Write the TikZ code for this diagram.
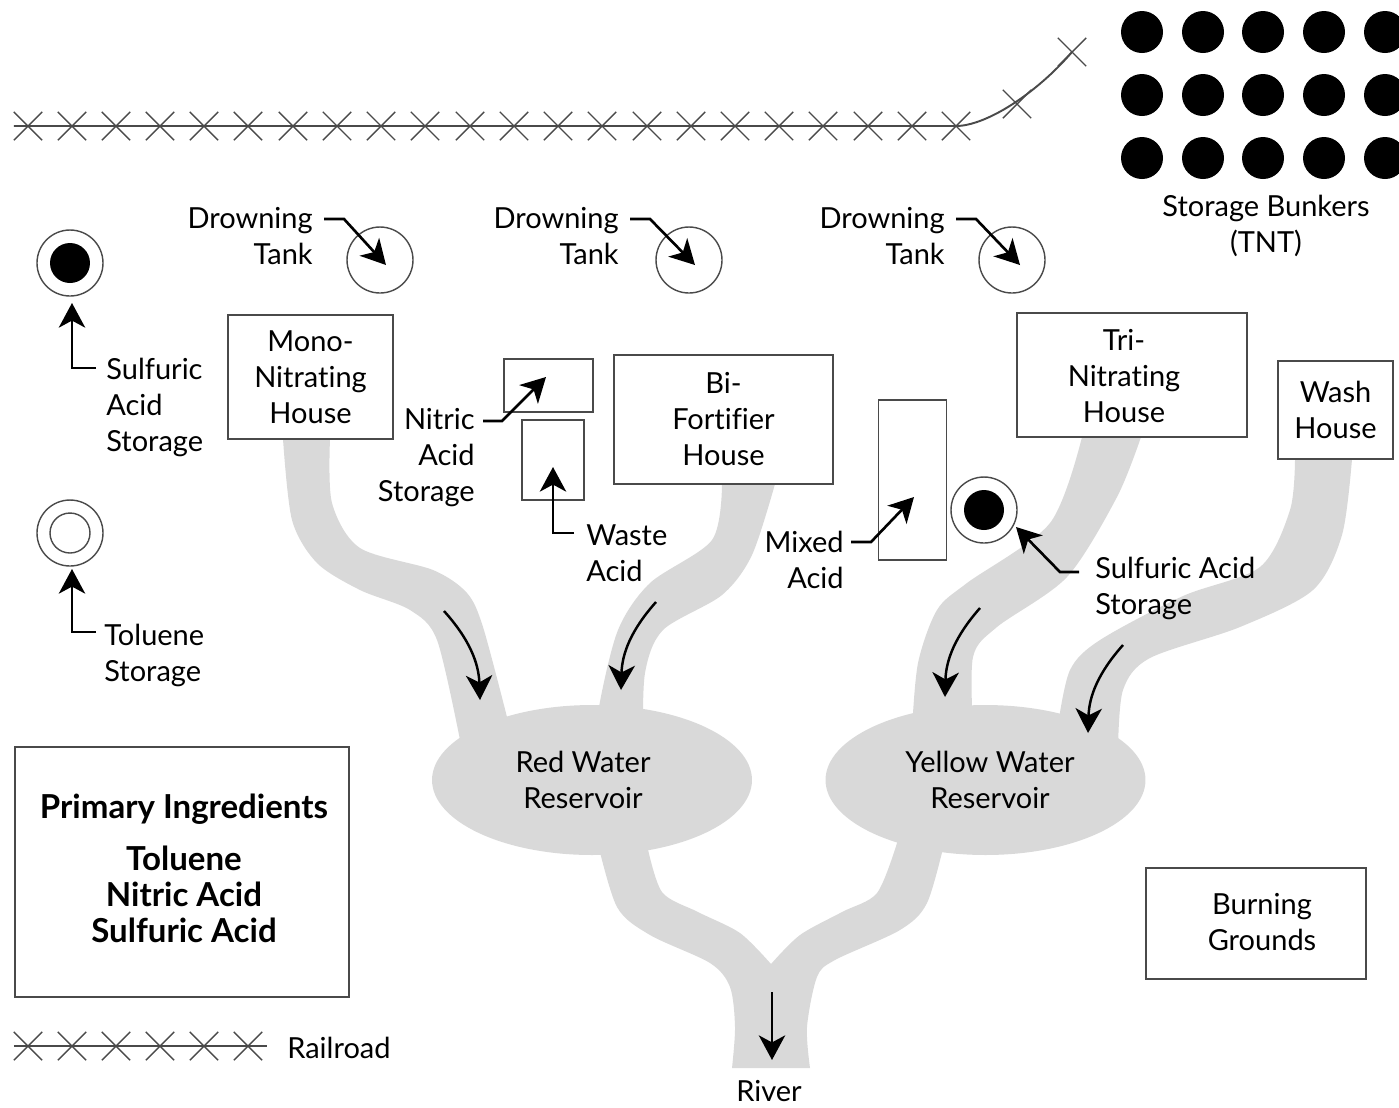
\documentclass[tikz,border=0pt]{standalone}
\usepackage{fontspec}
\setmainfont[Ligatures = NoCommon]{Lato}
\usepackage{tikz}
\usetikzlibrary{arrows.meta,shapes.geometric,shapes.misc}
\definecolor{water}{HTML}{D9D9D9}
\definecolor{railgray}{HTML}{4A4A4A}
\definecolor{boxgray}{HTML}{4A4A4A}
\newcommand{\labelfont}{\fontsize{16.5}{20.5}\selectfont}
\newcommand{\ingredfont}{\fontsize{18.8}{20.5}\selectfont\bfseries}

\begin{document}
\begin{tikzpicture}[x = 0.02cm, y = -0.02cm]
\tikzstyle{waterStyle} = [fill = water]
\tikzstyle{reservoirStyle} = [shape = ellipse, fill = water, inner sep = 0pt, minimum width = 6.4cm, minimum height = 3cm]
\tikzstyle{tieStyle} = [shape = cross out, draw = railgray, line width = 0.8pt, inner sep = 0pt, minimum size = 0.54cm]
\tikzstyle{railStyle} = [draw = railgray, line width = 1.1pt]
\tikzstyle{bunkerStyle} = [shape = circle, fill = black, inner sep = 0pt, minimum size = 0.84cm]
\tikzstyle{tankStyle} = [shape = circle, draw = boxgray, line width = 0.8pt, inner sep = 0pt, minimum size = 1.32cm]
\tikzstyle{coreStyle} = [shape = circle, fill = black, inner sep = 0pt, minimum size = 0.8cm]
\tikzstyle{openStyle} = [shape = circle, draw = boxgray, line width = 0.8pt, inner sep = 0pt, minimum size = 0.8cm]
\tikzstyle{boxStyle} = [shape = rectangle, draw = boxgray, line width = 0.9pt, inner sep = 0pt, align = center, font = \labelfont]
\tikzstyle{labelStyle} = [inner sep = 0pt, font = \labelfont]
\tikzstyle{leaderStyle} = [line width = 1.5pt, -{Stealth[length = 14pt, width = 15pt, inset = 4pt]}]
\tikzstyle{flowStyle} = [line width = 1.4pt, -{Stealth[length = 14pt, width = 15pt, inset = 4pt]}]
\useasboundingbox (0,0) rectangle (1399,1107);
\fill[waterStyle] plot[smooth] coordinates {(283,439) (292,520) (317,563) (360,590) (410,610) (437,640) (460,740)} -- plot[smooth] coordinates {(507,717) (483,627) (467,593) (433,570) (360,548) (332,503) (330,439)} -- cycle;
\fill[waterStyle] plot[smooth] coordinates {(722,484) (712,540) (650,583) (618,630) (599,707) (599,740)} -- plot[smooth] coordinates {(643,740) (645,673) (663,630) (722,595) (752,555) (775,484)} -- cycle;
\fill[waterStyle] plot[smooth] coordinates {(1082,437) (1050,523) (967,583) (937,610) (918,663) (912,730)} -- plot[smooth] coordinates {(973,730) (973,657) (997,627) (1067,577) (1117,497) (1141,437)} -- cycle;
\fill[waterStyle] plot[smooth] coordinates {(1295,459) (1290,510) (1260,567) (1183,596) (1100,640) (1070,670) (1058,725)} -- plot[smooth] coordinates {(1118,750) (1123,690) (1150,658) (1240,627) (1313,590) (1342,535) (1352,459)} -- cycle;
\fill[waterStyle] plot[smooth] coordinates {(597,840) (617,907) (650,935) (710,963) (730,987) (735,1027) (732,1068)} -- (810,1068) -- plot[smooth] coordinates {(810,1068) (807,1027) (817,977) (835,960) (900,930) (927,903) (945,840)} -- (897,840) -- plot[smooth] coordinates {(897,843) (877,893) (842,912) (800,935) (771,964)} -- plot[smooth] coordinates {(771,964) (740,933) (698,912) (662,892) (647,845)} -- cycle;
\node[reservoirStyle] (redres) at (592,780) {};
\node[reservoirStyle] (yellowres) at (985.5,780) {};
\node[labelStyle, align = center] (redtext) at (583,780) {Red Water\\Reservoir};
\node[labelStyle, align = center] (yellowtext) at (990,780) {Yellow Water\\Reservoir};
\node[tieStyle] (rt0) at (28,126) {};
\node[tieStyle] (rt1) at (72,126) {};
\node[tieStyle] (rt2) at (116,126) {};
\node[tieStyle] (rt3) at (160,126) {};
\node[tieStyle] (rt4) at (204,126) {};
\node[tieStyle] (rt5) at (248,126) {};
\node[tieStyle] (rt6) at (293,126) {};
\node[tieStyle] (rt7) at (337,126) {};
\node[tieStyle] (rt8) at (381,126) {};
\node[tieStyle] (rt9) at (425,126) {};
\node[tieStyle] (rt10) at (470,126) {};
\node[tieStyle] (rt11) at (514,126) {};
\node[tieStyle] (rt12) at (558,126) {};
\node[tieStyle] (rt13) at (602,126) {};
\node[tieStyle] (rt14) at (647,126) {};
\node[tieStyle] (rt15) at (691,126) {};
\node[tieStyle] (rt16) at (735,126) {};
\node[tieStyle] (rt17) at (779,126) {};
\node[tieStyle] (rt18) at (823,126) {};
\node[tieStyle] (rt19) at (868,126) {};
\node[tieStyle] (rt20) at (912,126) {};
\node[tieStyle] (rt21) at (956,126) {};
\node[tieStyle] (rt22) at (1017,104) {};
\node[tieStyle] (rt23) at (1072,52) {};
\draw[railStyle] (rt0.west) -- (rt21.center) .. controls (985,126) and (1035,95) .. (rt23.center);
\node[bunkerStyle] (bk0) at (1142,32) {};
\node[bunkerStyle] (bk1) at (1203,32) {};
\node[bunkerStyle] (bk2) at (1263,32) {};
\node[bunkerStyle] (bk3) at (1324,32) {};
\node[bunkerStyle] (bk4) at (1385,32) {};
\node[bunkerStyle] (bk5) at (1142,95) {};
\node[bunkerStyle] (bk6) at (1203,95) {};
\node[bunkerStyle] (bk7) at (1263,95) {};
\node[bunkerStyle] (bk8) at (1324,95) {};
\node[bunkerStyle] (bk9) at (1385,95) {};
\node[bunkerStyle] (bk10) at (1142,158) {};
\node[bunkerStyle] (bk11) at (1203,158) {};
\node[bunkerStyle] (bk12) at (1263,158) {};
\node[bunkerStyle] (bk13) at (1324,158) {};
\node[bunkerStyle] (bk14) at (1385,158) {};
\node[labelStyle, align = center] (bunkerlabel) at (1266,226) {Storage Bunkers\\(TNT)};
\node[tankStyle] (drown1) at (380,260) {};
\node[tankStyle] (drown2) at (689,260) {};
\node[tankStyle] (drown3) at (1012,260) {};
\node[labelStyle, anchor = east, align = right] (drownlabel1) at (313,236) {Drowning\\Tank};
\node[labelStyle, anchor = east, align = right] (drownlabel2) at (619,236) {Drowning\\Tank};
\node[labelStyle, anchor = east, align = right] (drownlabel3) at (945,236) {Drowning\\Tank};
\draw[leaderStyle] ([shift = {(11,-17)}]drownlabel1.east) -- ++(20,0) -- ([shift = {(6,5)}]drown1.center);
\draw[leaderStyle] ([shift = {(11,-17)}]drownlabel2.east) -- ++(20,0) -- ([shift = {(6,5)}]drown2.center);
\draw[leaderStyle] ([shift = {(11,-17)}]drownlabel3.east) -- ++(20,0) -- ([shift = {(8,5)}]drown3.center);
\node[tankStyle] (sulfur1) at (70,263) {};
\node[coreStyle] (sulfurcore1) at (70,263) {};
\node[labelStyle, anchor = west, align = left] (sulfurlabel1) at (106,407) {Sulfuric\\Acid\\Storage};
\draw[leaderStyle] ([shift = {(-10,-39)}]sulfurlabel1.west) -| ([shift = {(2,40)}]sulfur1.center);
\node[tankStyle] (toluene) at (70,533) {};
\node[openStyle] (toluenecore) at (70,533) {};
\node[labelStyle, anchor = west, align = left] (toluenelabel) at (104,655) {Toluene\\Storage};
\draw[leaderStyle] ([shift = {(-8,-23)}]toluenelabel.west) -| ([shift = {(2,36)}]toluene.center);
\node[boxStyle, minimum width = 3.3cm, minimum height = 2.48cm] (monohouse) at (310.5,377) {Mono-\\Nitrating\\House};
\node[boxStyle, minimum width = 4.38cm, minimum height = 2.58cm] (bihouse) at (723.5,419.5) {Bi-\\Fortifier\\House};
\node[boxStyle, minimum width = 4.6cm, minimum height = 2.48cm] (trihouse) at (1132,375) {};
\node[labelStyle, align = center] (tritext) at (1124,376) {Tri-\\Nitrating\\House};
\node[boxStyle, minimum width = 2.3cm, minimum height = 1.96cm] (washhouse) at (1335.5,410) {Wash\\House};
\node[boxStyle, minimum width = 1.78cm, minimum height = 1.06cm] (nitricbox) at (548.5,385.5) {};
\node[boxStyle, minimum width = 1.24cm, minimum height = 1.6cm] (wastebox) at (553,460) {};
\node[boxStyle, minimum width = 1.36cm, minimum height = 3.2cm] (mixedbox) at (912.5,480) {};
\node[labelStyle, anchor = east, align = right] (nitriclabel) at (475,458) {Nitric\\Acid\\Storage};
\node[labelStyle, anchor = west, align = left] (wastelabel) at (586,553) {Waste\\Acid};
\node[labelStyle, anchor = east, align = right] (mixedlabel) at (844,560) {Mixed\\Acid};
\draw[leaderStyle] ([shift = {(8,-37)}]nitriclabel.east) -- ++(19,0) -- ([shift = {(-2.5,-8.5)}]nitricbox.center);
\draw[leaderStyle] ([shift = {(-12,-20)}]wastelabel.west) -| ([shift = {(0,7)}]wastebox.center);
\draw[leaderStyle] ([shift = {(7,-18)}]mixedlabel.east) -- ++(20,0) -- ([shift = {(1.5,17)}]mixedbox.center);
\node[tankStyle] (sulfur2) at (984,510) {};
\node[coreStyle] (sulfurcore2) at (984,510) {};
\node[labelStyle, anchor = west, align = left] (sulfurlabel2) at (1095,588) {Sulfuric Acid\\Storage};
\draw[leaderStyle] ([shift = {(-16,-16)}]sulfurlabel2.west) -- ++(-19,0) -- ([shift = {(32,17)}]sulfur2.center);
\coordinate (monoflow) at (444,611);
\coordinate (monotip) at (480,700);
\coordinate (biflow) at (656,602);
\coordinate (bitip) at (621,690);
\coordinate (triflow) at (980,608);
\coordinate (tritip) at (945,697);
\coordinate (washflow) at (1123,645);
\coordinate (washtip) at (1088,733);
\coordinate (riverflow) at (772,992);
\draw[flowStyle] (monoflow) to[bend left = 20] (monotip);
\draw[flowStyle] (biflow) to[bend right = 20] (bitip);
\draw[flowStyle] (triflow) to[bend right = 20] (tritip);
\draw[flowStyle] (washflow) to[bend right = 20] (washtip);
\node[labelStyle] (river) at (769,1091) {River};
\draw[flowStyle] (riverflow) -- ([shift = {(3,-20)}]river.north);
\node[boxStyle, minimum width = 6.68cm, minimum height = 5cm] (primary) at (182,872) {};
\node[labelStyle, align = center, font = \ingredfont] (primarytext) at (184,868) {Primary Ingredients\\[9pt]Toluene\\Nitric Acid\\Sulfuric Acid};
\node[boxStyle, minimum width = 4.4cm, minimum height = 2.22cm] (burning) at (1256,923.5) {};
\node[labelStyle, align = center] (burntext) at (1262,922) {Burning\\Grounds};
\node[tieStyle] (lg0) at (28,1046) {};
\node[tieStyle] (lg1) at (72,1046) {};
\node[tieStyle] (lg2) at (116,1046) {};
\node[tieStyle] (lg3) at (160,1046) {};
\node[tieStyle] (lg4) at (204,1046) {};
\node[tieStyle] (lg5) at (248,1046) {};
\node[labelStyle, anchor = west] (railroad) at (287,1048) {Railroad};
\coordinate (lgend) at (267,1046);
\draw[railStyle] (lg0.west) -- (lgend);
\end{tikzpicture}
\end{document}
